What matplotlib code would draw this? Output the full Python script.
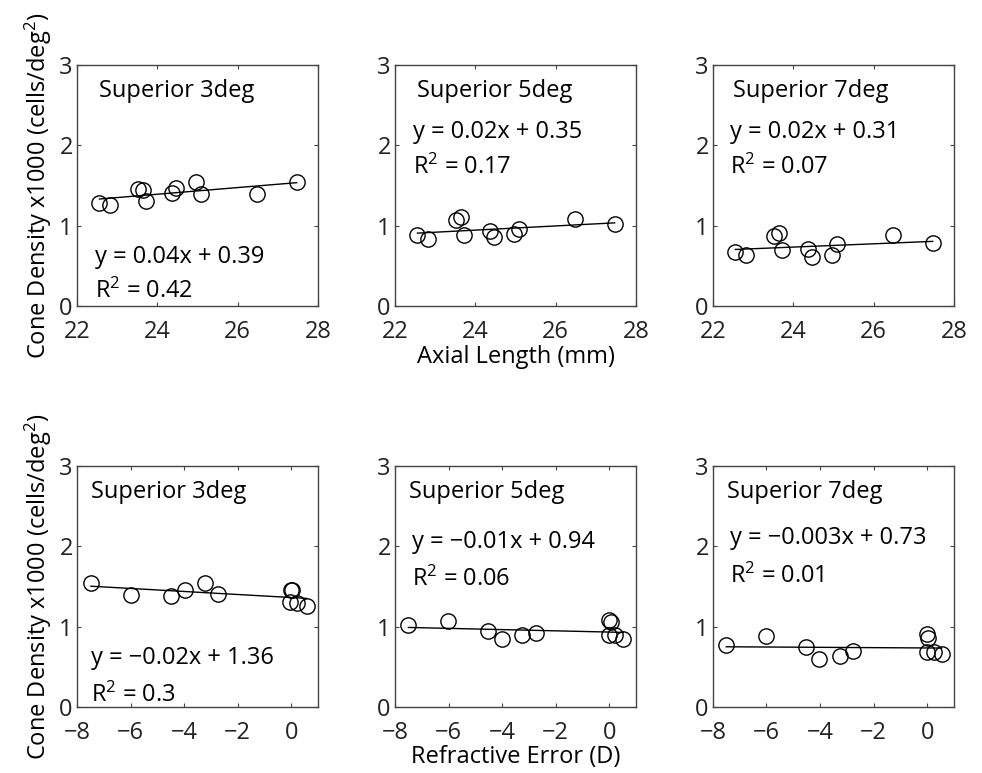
import numpy as np
import matplotlib
matplotlib.use("Agg")
import matplotlib.pyplot as plt

plt.rcParams['font.family'] = ['Open Sans', 'DejaVu Sans']
plt.rcParams['mathtext.fontset'] = 'custom'
plt.rcParams['mathtext.rm'] = 'Open Sans'
plt.rcParams['mathtext.it'] = 'Open Sans'

# datos
axial = [22.56, 22.83, 23.53, 23.64, 23.72, 24.36, 24.47, 24.97, 25.08, 26.48, 27.47]
dens3_al = [1.28, 1.26, 1.46, 1.45, 1.31, 1.41, 1.47, 1.55, 1.39, 1.40, 1.54]
dens5_al = [0.88, 0.84, 1.07, 1.11, 0.88, 0.93, 0.86, 0.90, 0.96, 1.08, 1.02]
dens7_al = [0.67, 0.64, 0.87, 0.91, 0.70, 0.71, 0.61, 0.63, 0.77, 0.89, 0.78]

refrac3 = [-7.48, -6.0, -4.5, -3.98, -3.21, -2.75, 0.0, 0.02, -0.05, 0.2, 0.58]
dens3_re = [1.54, 1.39, 1.38, 1.46, 1.54, 1.41, 1.46, 1.45, 1.31, 1.29, 1.26]
refrac5 = [-7.5, -6.01, -4.54, -3.99, -3.24, -2.74, 0.0, 0.05, 0.0, 0.22, 0.53]
dens5_re = [1.02, 1.07, 0.95, 0.85, 0.89, 0.92, 1.08, 1.06, 0.89, 0.89, 0.84]
refrac7 = [-7.5, -6.0, -4.51, -4.03, -3.26, -2.76, 0.0, 0.02, 0.0, 0.25, 0.54]
dens7_re = [0.77, 0.88, 0.75, 0.60, 0.63, 0.70, 0.91, 0.86, 0.69, 0.68, 0.66]

titulos = ['Superior 3deg', 'Superior 5deg', 'Superior 7deg']
ecs_al = ['y = 0.04x + 0.39', 'y = 0.02x + 0.35', 'y = 0.02x + 0.31']
r2_al = ['0.42', '0.17', '0.07']
ecs_re = ['y = \u22120.02x + 1.36', 'y = \u22120.01x + 0.94', 'y = \u22120.003x + 0.73']
r2_re = ['0.3', '0.06', '0.01']

# posiciones del texto (fraccion de ejes): titulo, ecuacion, R2
pos_al = [[(0.09, 0.89), (0.075, 0.205), (0.075, 0.06)],
          [(0.09, 0.89), (0.075, 0.72), (0.075, 0.575)],
          [(0.083, 0.89), (0.07, 0.72), (0.07, 0.575)]]
pos_re = [[(0.06, 0.89), (0.06, 0.205), (0.06, 0.05)],
          [(0.058, 0.89), (0.07, 0.685), (0.07, 0.53)],
          [(0.058, 0.89), (0.07, 0.70), (0.07, 0.54)]]

fig = plt.figure(figsize=(9.82, 7.73), dpi=100)
lefts = [0.0784, 0.4022, 0.726]
w = 0.2454
h = 0.312
gris = '#444444'
fs = 17


def panel(ax, x, y, xlim, xticks, titulo, ec, r2, pos):
    ax.plot(x, y, 'o', mfc='none', mec='black', ms=11, mew=1.0)
    p = np.polyfit(x, y, 1)
    xx = np.array([min(x), max(x)])
    ax.plot(xx, np.polyval(p, xx), 'k-', lw=1.0)
    ax.set_xlim(xlim)
    ax.set_ylim(0, 3)
    ax.set_xticks(xticks)
    ax.set_yticks([0, 1, 2, 3])
    ax.tick_params(direction='in', top=True, right=True, length=3, labelsize=fs,
                   color=gris, labelcolor='#222222')
    ax.tick_params(axis='x', pad=10)
    ax.tick_params(axis='y', pad=3)
    for s in ax.spines.values():
        s.set_color(gris)
        s.set_linewidth(1.0)
    ax.text(pos[0][0], pos[0][1], titulo, transform=ax.transAxes, fontsize=fs, va='center')
    ax.text(pos[1][0], pos[1][1], ec, transform=ax.transAxes, fontsize=fs, va='center')
    ax.text(pos[2][0], pos[2][1], 'R$^{2}$ = ' + r2, transform=ax.transAxes, fontsize=fs,
            va='center')


datos_al = [dens3_al, dens5_al, dens7_al]
datos_re = [(refrac3, dens3_re), (refrac5, dens5_re), (refrac7, dens7_re)]

for i in range(3):
    ax = fig.add_axes([lefts[i], 0.604, w, h])
    panel(ax, axial, datos_al[i], (22, 28), [22, 24, 26, 28], titulos[i], ecs_al[i], r2_al[i], pos_al[i])
    if i == 0:
        ax.set_ylabel('Cone Density x1000 (cells/deg$^{2}$)', fontsize=fs, labelpad=4)
    if i == 1:
        ax.set_xlabel('Axial Length (mm)', fontsize=fs, labelpad=1)

for i in range(3):
    ax = fig.add_axes([lefts[i], 0.0854, w, h])
    panel(ax, datos_re[i][0], datos_re[i][1], (-8, 1), [-8, -6, -4, -2, 0], titulos[i], ecs_re[i], r2_re[i], pos_re[i])
    if i == 0:
        ax.set_ylabel('Cone Density x1000 (cells/deg$^{2}$)', fontsize=fs, labelpad=4)
    if i == 1:
        ax.set_xlabel('Refractive Error (D)', fontsize=fs, labelpad=0)

plt.savefig('out.png', dpi=100)
plt.close()
